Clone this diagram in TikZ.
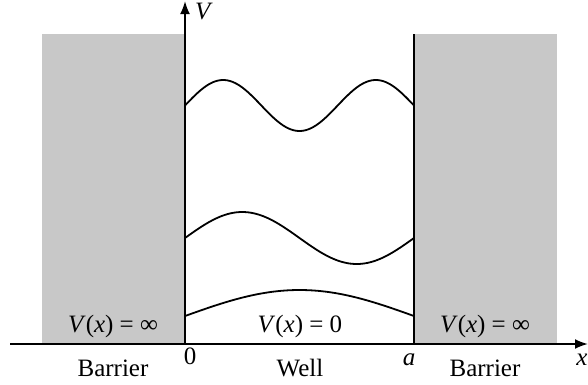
\documentclass[tikz,border=0pt]{standalone}
\usepackage{fontspec}
\setmainfont{Liberation Serif}
\usetikzlibrary{arrows.meta}
\definecolor{barriergray}{RGB}{200,200,200}
\tikzset{
  axis/.style={-{Latex[length=13pt, width=10pt]}, line width=2pt},
  wall/.style={line width=2pt},
  wave/.style={line width=1.8pt, smooth, samples=120, domain=0:229},
  lbl/.style={font=\fontsize{25}{30}\selectfont, inner sep=0pt},
}
\begin{document}
\begin{tikzpicture}[x=1pt, y=-1pt]
        \useasboundingbox (0, 0) rectangle (588, 384);
        % barriers
        \fill[barriergray] (42, 34) rectangle (185, 344);
        \fill[barriergray] (414, 34) rectangle (557, 344);
        \coordinate (O) at (185, 344);
        \coordinate (A) at (414, 344);
        \coordinate (Atop) at (414, 34);
        \coordinate (xstart) at (10, 344);
        \coordinate (xend) at (588, 344);
        \coordinate (vend) at (185, 1);
        \draw[axis] (xstart) -- (xend);
        \draw[axis] (O) -- (vend);
        \draw[wall] (A) -- (Atop);
        % wave functions
        \draw[wave] plot ({185+\x}, {105.5-25.5*sin(2.35808*\x)});
        \draw[wave] plot ({185+\x}, {238-26*sin(1.57205*\x)});
        \draw[wave] plot ({185+\x}, {316-26*sin(0.786026*\x)});
        % labels
        \node[lbl] (vlabel) at (204, 11) {\textit{V}};
        \node[lbl] (xlabel) at (582, 360) {\textit{x}};
        \node[lbl] (zero) at (190, 356) {0};
        \node[lbl] (alabel) at (409, 360) {\textit{a}};
        \node[lbl] (vleft) at (113, 326) {\textit{V}(\textit{x}) = ∞};
        \node[lbl] (vmid) at (300, 326) {\textit{V}(\textit{x}) = 0};
        \node[lbl] (vright) at (485, 326) {\textit{V}(\textit{x}) = ∞};
        \node[lbl] (barleft) at (113, 368) {Barrier};
        \node[lbl] (well) at (300, 368) {Well};
        \node[lbl] (barright) at (485, 368) {Barrier};
    \end{tikzpicture}
\end{document}
